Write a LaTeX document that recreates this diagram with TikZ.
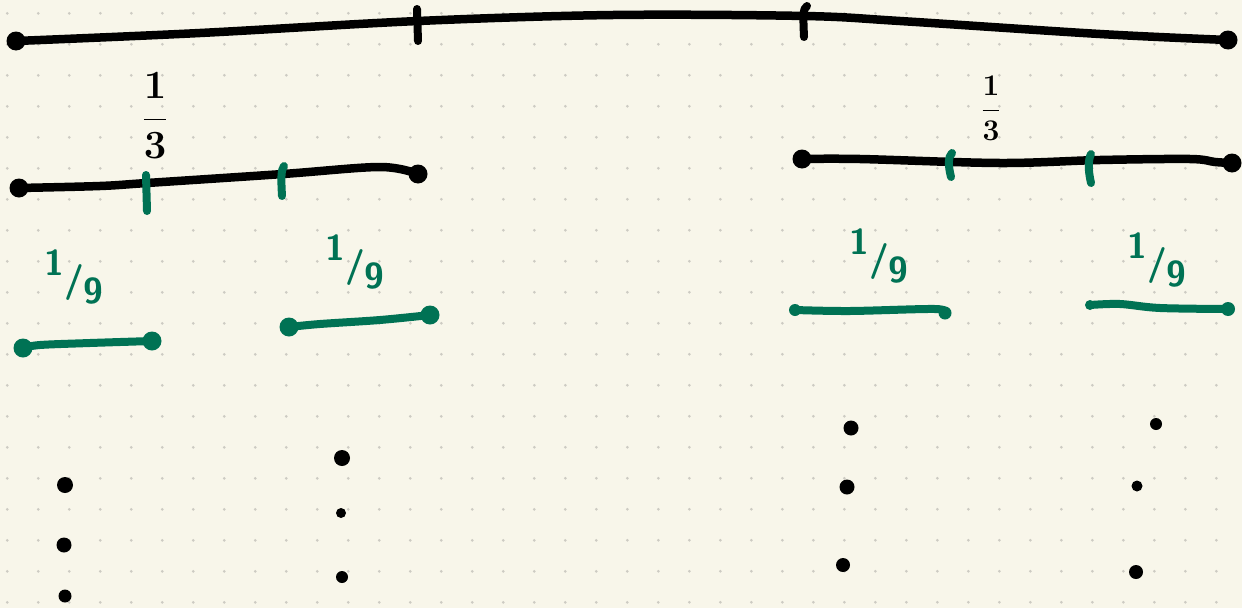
\RequirePackage{fix-cm}
\documentclass[tikz,border=0pt]{standalone}
\definecolor{paper}{RGB}{248,246,234}
\definecolor{gridc}{RGB}{205,203,195}
\definecolor{pen}{RGB}{0,114,84}
\begin{document}
\begin{tikzpicture}[x=1pt,y=-1pt,
  seg/.style={line width=8.5pt, line cap=round, line join=round},
  gseg/.style={line width=8pt, line cap=round, line join=round, draw=pen},
  tickmark/.style={line width=8pt, line cap=round},
  enddot/.style={circle, fill=#1, draw=none, inner sep=0pt, minimum size=19pt},
  smalldot/.style={circle, fill=black, draw=none, inner sep=0pt, minimum size=#1},
  third/.style={font=\fontsize{#1}{#1}\selectfont\boldmath, inner sep=0pt},
  ninth/.style={font=\fontsize{36}{36}\selectfont\sffamily\bfseries, text=pen, inner sep=0pt}]
\useasboundingbox[fill=paper] (0,0) rectangle (1242,608);
% dotted grid
\foreach \i in {0,...,39} {
  \foreach \j in {0,...,19} {
    \fill[gridc] (7.3+31*\i,13.3+31*\j) circle (1.5pt);
  }
}
% ---- top segment
\node[enddot=black] (T0) at (16,41) {};
\node[enddot=black] (T1) at (1228,40) {};
\draw[seg] plot[smooth, tension=0.55] coordinates {(T0.center) (200,33) (418,21) (613,15) (805,16) (900,21) (1100,34) (T1.center)};
\draw[tickmark] (417,9) -- (418,41);
\draw[tickmark] (807,6) .. controls (803,9) and (803,14) .. (804,37);
% labels 1/3
\node[third=40] (h1) at (155,116) {$\displaystyle\frac{1}{3}$};
\node[third=30] (h2) at (991,108) {$\displaystyle\frac{1}{3}$};
% ---- left third
\node[enddot=black] (L0) at (19,188) {};
\node[enddot=black] (L1) at (418,174) {};
\draw[seg] plot[smooth, tension=0.55] coordinates {(L0.center) (100,186) (147,183) (283,174) (380,167) (L1.center)};
\draw[tickmark, pen] (146,175) -- (147,211);
\draw[tickmark, pen] (284,166) .. controls (281,170) and (281,178) .. (282,196);
% ---- right third
\node[enddot=black] (R0) at (802,159) {};
\node[enddot=black] (R1) at (1232,163) {};
\draw[seg] plot[smooth, tension=0.55] coordinates {(R0.center) (860,159) (1000,163) (1100,160) (1190,159) (1215,162) (R1.center)};
\draw[tickmark, pen] (952,153) .. controls (948,157) and (948,165) .. (951,177);
\draw[tickmark, pen] (1091,154) .. controls (1088,160) and (1088,170) .. (1091,183);
% ---- ninths
\node[ninth] (n1) at (74,277) {\raisebox{0.45em}{1}/\raisebox{-0.35em}{9}};
\node[ninth] (n2) at (355,262) {\raisebox{0.45em}{1}/\raisebox{-0.35em}{9}};
\node[ninth] (n3) at (879,256) {\raisebox{0.45em}{1}/\raisebox{-0.35em}{9}};
\node[ninth] (n4) at (1157,260) {\raisebox{0.45em}{1}/\raisebox{-0.35em}{9}};
\node[enddot=pen] (G1a) at (23,348) {};
\node[enddot=pen] (G1b) at (152,341) {};
\draw[gseg] plot[smooth, tension=0.55] coordinates {(G1a.center) (40,345) (90,343) (G1b.center)};
\node[enddot=pen] (G2a) at (289,327) {};
\node[enddot=pen] (G2b) at (430,315) {};
\draw[gseg] plot[smooth, tension=0.55] coordinates {(G2a.center) (320,324) (380,320) (G2b.center)};
\node[enddot=pen, minimum size=12pt] (G3a) at (795,310) {};
\node[enddot=pen, minimum size=13pt] (G3b) at (945,313) {};
\draw[gseg] plot[smooth, tension=0.55] coordinates {(G3a.center) (850,311) (935,309) (G3b.center)};
\node[enddot=pen, minimum size=10pt] (G4a) at (1090,305) {};
\node[enddot=pen, minimum size=14pt] (G4b) at (1228,309) {};
\draw[gseg] plot[smooth, tension=0.55] coordinates {(G4a.center) (1120,304) (1160,308) (G4b.center)};
% ---- dots
\node[smalldot=16pt] (d11) at (65,485) {};
\node[smalldot=15pt] (d12) at (64,545) {};
\node[smalldot=13pt] (d13) at (65,596) {};
\node[smalldot=16pt] (d21) at (342,458) {};
\node[smalldot=10pt] (d22) at (341,513) {};
\node[smalldot=12pt] (d23) at (342,577) {};
\node[smalldot=15pt] (d31) at (851,428) {};
\node[smalldot=15pt] (d32) at (847,487) {};
\node[smalldot=14pt] (d33) at (843,565) {};
\node[smalldot=12pt] (d41) at (1156,424) {};
\node[smalldot=11pt] (d42) at (1137,486) {};
\node[smalldot=14pt] (d43) at (1136,572) {};
\end{tikzpicture}
\end{document}
